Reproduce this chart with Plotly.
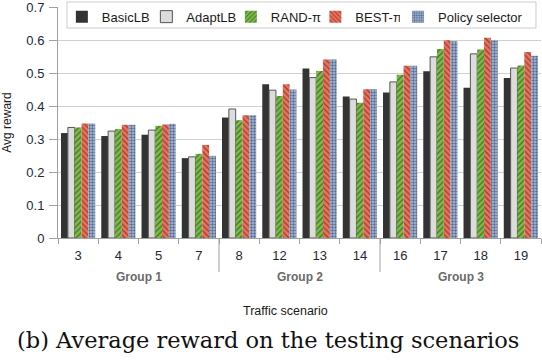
import plotly.graph_objects as go

# scenarios and groups
scenarios = ["3", "4", "5", "7", "8", "12", "13", "14", "16", "17", "18", "19"]
groups = ["Group 1", "Group 2", "Group 3"]
group_sizes = [4, 4, 4]

basic_lb = [0.318, 0.309, 0.313, 0.242, 0.365, 0.466, 0.514, 0.429, 0.441, 0.505, 0.455, 0.485]
adapt_lb = [0.335, 0.324, 0.327, 0.246, 0.391, 0.448, 0.486, 0.421, 0.473, 0.549, 0.558, 0.515]
rand_pi = [0.335, 0.330, 0.340, 0.255, 0.357, 0.430, 0.506, 0.410, 0.495, 0.573, 0.571, 0.523]
best_pi = [0.347, 0.343, 0.344, 0.282, 0.372, 0.466, 0.541, 0.451, 0.522, 0.599, 0.607, 0.564]
policy_sel = [0.347, 0.343, 0.346, 0.249, 0.372, 0.450, 0.541, 0.451, 0.522, 0.596, 0.599, 0.552]

series = [
    ("BasicLB", basic_lb, "#333333", dict(width=0), None),
    ("AdaptLB", adapt_lb, "#dcdcdc", dict(width=1, color="#555555"), None),
    ("RAND-π", rand_pi, "#79bd45", dict(width=0), dict(shape="/", size=4, solidity=0.3, fgcolor="#1a1a1a")),
    ("BEST-π", best_pi, "#f36f58", dict(width=0), dict(shape="\\", size=4, solidity=0.3, fgcolor="#1a1a1a")),
    ("Policy selector", policy_sel, "#a3bfe6", dict(width=0), dict(shape=".", size=3, solidity=0.5, fgcolor="#1a1a2a")),
]

fig = go.Figure()
for k, (name, vals, col, line, pat) in enumerate(series):
    marker = dict(color=col, line=line)
    if pat:
        marker["pattern"] = pat
    # last entry goes to a second legend so its long label is not clipped
    fig.add_trace(go.Bar(name=name, x=scenarios, y=vals, marker=marker,
                         legend="legend2" if k == len(series) - 1 else "legend"))

font = "Liberation Sans, Arial, sans-serif"
tick_col = "#1e2838"
leg_common = dict(orientation="h", y=1.023, xanchor="left", yanchor="top",
                  bgcolor="rgba(0,0,0,0)", borderwidth=0,
                  font=dict(size=13, color="#1a1a1a"), itemwidth=30, traceorder="normal")

fig.update_layout(
    width=542, height=364,
    margin=dict(l=58, r=1, t=7, b=126),
    barmode="group", bargap=0.15, bargroupgap=0,
    plot_bgcolor="white", paper_bgcolor="white",
    font=dict(family=font, size=13, color=tick_col),
    showlegend=True,
    legend=dict(x=0.008, entrywidth=39.5, entrywidthmode="pixels", **leg_common),
    legend2=dict(x=0.704, **leg_common),
)

# legend frame
fig.add_shape(type="rect", xref="paper", yref="paper", x0=0.0186, x1=0.9896, y0=0.909, y1=1.0216,
              fillcolor="white", line=dict(color="#cccccc", width=1), layer="above")

fig.update_yaxes(
    range=[0, 0.70001], dtick=0.1, automargin=False, ticklabeloverflow="allow",
    showgrid=True, gridcolor="#d0d0d0", gridwidth=1,
    showline=True, linecolor="#a0a0a0", linewidth=1,
    ticks="outside", ticklen=8, tickcolor="#a0a0a0", ticklabelstandoff=2,
    zeroline=False,
    tickfont=dict(size=13, color=tick_col),
    title=dict(text="Avg reward", font=dict(size=12, color="#1a1a1a"), standoff=12),
)
fig.update_xaxes(
    showline=True, linecolor="#a0a0a0", linewidth=1, automargin=False,
    ticks="outside", ticklen=5, tickcolor="#a0a0a0", tickson="boundaries",
    ticklabelstandoff=5,
    tickfont=dict(size=13, color=tick_col),
)

# group separators and labels
start = 0
for i, (g, n) in enumerate(zip(groups, group_sizes)):
    center = start + (n - 1) / 2
    fig.add_annotation(x=center, y=-0.169, xref="x", yref="paper", text="<b>" + g + "</b>",
                       xanchor="center", yanchor="middle",
                       showarrow=False, font=dict(size=12, color="#6a6a6a"))
    if i > 0:
        fig.add_shape(type="line", x0=start - 0.5, x1=start - 0.5, y0=0, y1=-0.147,
                      xref="x", yref="paper", line=dict(color="#a0a0a0", width=1))
    start += n

fig.add_annotation(x=0.47, y=-0.316, xref="paper", yref="paper", text="Traffic scenario",
                   xanchor="center", yanchor="middle",
                   showarrow=False, font=dict(size=12.5, color="#1a1a1a"))

caption = "(b) Average reward on the testing scenarios"
fig.add_annotation(x=0.435, y=-0.443, xref="paper", yref="paper", text=caption,
                   xanchor="center", yanchor="middle",
                   showarrow=False, font=dict(family="DejaVu Serif, serif",
                                               size=22.5, color="#111111"))

fig.write_html("out.html", config={"displayModeBar": False},
               post_script="document.body.style.margin='0';")
